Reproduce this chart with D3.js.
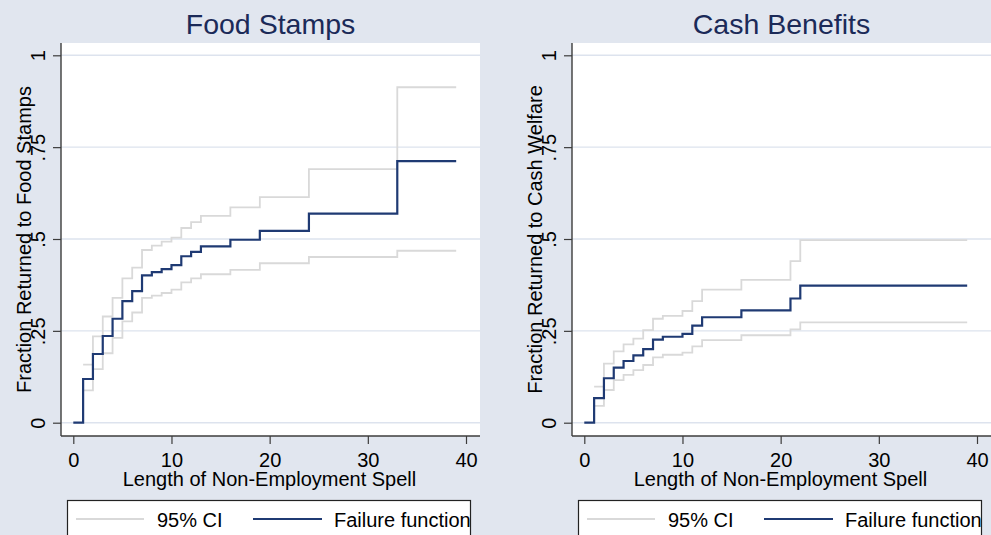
<!DOCTYPE html>
<html>
<head>
<meta charset="utf-8">
<script src="https://cdn.jsdelivr.net/npm/d3@7"></script>
<style>
  html, body { margin: 0; padding: 0; background: #e1e6ef; overflow: hidden; }
  svg { display: block; }
  text { font-family: "Liberation Sans", Arial, Helvetica, sans-serif; }
</style>
</head>
<body>
<svg id="chart" width="991" height="535"></svg>
<script>
// Axis ticks
const xTicks = [0, 10, 20, 30, 40];
const yTicks = [0, 0.25, 0.5, 0.75, 1];
const yTickLabels = ["0", ".25", ".5", ".75", "1"];

// Food stamps: Kaplan-Meier failure estimate and 95% CI (months)
const foodTimes   = [0, 1, 2, 3, 4, 5, 6, 7, 8, 9, 10, 11, 12, 13, 16, 19, 24, 33, 39];
const foodFailure = [0, 0.119, 0.187, 0.236, 0.283, 0.331, 0.358, 0.401, 0.410, 0.418, 0.429, 0.453, 0.465, 0.480, 0.498, 0.522, 0.569, 0.712, 0.712];
const foodUpper   = [null, 0.158, 0.235, 0.289, 0.340, 0.393, 0.422, 0.470, 0.482, 0.493, 0.504, 0.530, 0.546, 0.563, 0.586, 0.614, 0.690, 0.913, 0.913];
const foodLower   = [null, 0.088, 0.146, 0.189, 0.231, 0.276, 0.300, 0.340, 0.346, 0.353, 0.362, 0.382, 0.393, 0.404, 0.416, 0.434, 0.451, 0.468, 0.468];

// Cash welfare: Kaplan-Meier failure estimate and 95% CI (months)
const cashTimes   = [0, 1, 2, 3, 4, 5, 6, 7, 8, 10, 11, 12, 16, 21, 22, 39];
const cashFailure = [0, 0.067, 0.121, 0.150, 0.168, 0.183, 0.200, 0.226, 0.234, 0.242, 0.264, 0.287, 0.306, 0.338, 0.373, 0.373];
const cashUpper   = [null, 0.098, 0.161, 0.194, 0.213, 0.229, 0.252, 0.283, 0.291, 0.304, 0.331, 0.362, 0.389, 0.440, 0.497, 0.497];
const cashLower   = [null, 0.046, 0.089, 0.116, 0.130, 0.143, 0.157, 0.178, 0.185, 0.191, 0.208, 0.225, 0.238, 0.254, 0.273, 0.273];

// Panel text
const panelTitles  = ["Food Stamps", "Cash Benefits"];
const yTitles      = ["Fraction Returned to Food Stamps", "Fraction Returned to Cash Welfare"];
const xTitle       = "Length of Non-Employment Spell";
const legendLabels = ["95% CI", "Failure function"];

// Colours
const BG = "#e1e6ef", GRID = "#dde3ee", CI_COLOR = "#d9d9d9", FAIL_COLOR = "#1f3a73",
      AXIS = "#3c3c3c", TITLE_COLOR = "#1b2a58";

// Layout (pixels); the second panel is the first one shifted right
const panelOffsets = [0, 511];
const plot = { left: 61, right: 480, top: 43, bottom: 436 };
const xRange = [73.3, 466];
const yRange = [422.7, 55.3];
const LABEL_SIZE = "20px";

const svg = d3.select("#chart");
svg.append("rect").attr("width", 991).attr("height", 535).attr("fill", BG);

const series = [
  { times: foodTimes, fail: foodFailure, upper: foodUpper, lower: foodLower },
  { times: cashTimes, fail: cashFailure, upper: cashUpper, lower: cashLower }
];

series.forEach((s, i) => {
  const off = panelOffsets[i];
  const g = svg.append("g").attr("transform", `translate(${off},0)`);
  const right = i === 1 ? 991 - off : plot.right;

  const x = d3.scaleLinear().domain([0, 40]).range(xRange);
  const y = d3.scaleLinear().domain([0, 1]).range(yRange);

  // plot region
  g.append("rect")
    .attr("x", plot.left).attr("y", plot.top)
    .attr("width", right - plot.left).attr("height", plot.bottom - plot.top)
    .attr("fill", "#ffffff");

  // horizontal grid
  g.append("g").selectAll("line").data(yTicks).join("line")
    .attr("x1", plot.left).attr("x2", right)
    .attr("y1", d => y(d)).attr("y2", d => y(d))
    .attr("stroke", GRID).attr("stroke-width", 1.4);

  // step curves
  const line = key => d3.line()
    .defined((d, j) => s[key][j] != null)
    .x((d, j) => x(s.times[j]))
    .y((d, j) => y(s[key][j]))
    .curve(d3.curveStepAfter);

  ["upper", "lower"].forEach(k => {
    g.append("path").datum(s.times).attr("d", line(k))
      .attr("fill", "none").attr("stroke", CI_COLOR).attr("stroke-width", 1.8);
  });
  g.append("path").datum(s.times).attr("d", line("fail"))
    .attr("fill", "none").attr("stroke", FAIL_COLOR).attr("stroke-width", 2.2);

  // y axis
  const yAxis = g.append("g").attr("transform", `translate(${plot.left},0)`)
    .call(d3.axisLeft(y).tickValues(yTicks).tickFormat((d, j) => yTickLabels[j])
      .tickSize(8).tickSizeOuter(0));
  yAxis.select(".domain").remove();
  yAxis.selectAll(".tick line").attr("stroke", AXIS).attr("stroke-width", 1.2);
  yAxis.selectAll(".tick text")
    .attr("transform", "rotate(-90)")
    .attr("x", 0).attr("y", -16).attr("dy", 0)
    .attr("text-anchor", "middle")
    .attr("fill", "#000").style("font-size", LABEL_SIZE);
  g.append("line").attr("x1", plot.left).attr("x2", plot.left)
    .attr("y1", plot.top).attr("y2", plot.bottom)
    .attr("stroke", AXIS).attr("stroke-width", 1.4);

  // x axis
  const xAxis = g.append("g").attr("transform", `translate(0,${plot.bottom})`)
    .call(d3.axisBottom(x).tickValues(xTicks).tickFormat(d3.format("d"))
      .tickSize(8).tickSizeOuter(0));
  xAxis.select(".domain").remove();
  xAxis.selectAll(".tick line").attr("stroke", AXIS).attr("stroke-width", 1.2);
  xAxis.selectAll(".tick text")
    .attr("y", 30.5).attr("dy", 0)
    .attr("fill", "#000").style("font-size", LABEL_SIZE);
  g.append("line").attr("x1", plot.left).attr("x2", right)
    .attr("y1", plot.bottom).attr("y2", plot.bottom)
    .attr("stroke", AXIS).attr("stroke-width", 1.4);

  // titles
  g.append("text").attr("x", (plot.left + plot.right) / 2).attr("y", 34)
    .attr("text-anchor", "middle").attr("fill", TITLE_COLOR)
    .style("font-size", "28.5px").text(panelTitles[i]);
  g.append("text").attr("x", (plot.left + plot.right) / 2 - 1).attr("y", 485.5)
    .attr("text-anchor", "middle").attr("fill", "#000")
    .style("font-size", LABEL_SIZE).text(xTitle);
  g.append("text")
    .attr("transform", `translate(${plot.left - 30},${(plot.top + plot.bottom) / 2}) rotate(-90)`)
    .attr("text-anchor", "middle").attr("fill", "#000")
    .style("font-size", LABEL_SIZE).text(yTitles[i]);

  // legend
  const lg = g.append("g");
  lg.append("rect").attr("x", 67.5).attr("y", 500.5).attr("width", 403).attr("height", 60)
    .attr("fill", "#ffffff").attr("stroke", "#222").attr("stroke-width", 1.2);
  const items = [
    { label: legendLabels[0], color: CI_COLOR, w: 1.8, x1: 76, x2: 144, tx: 157 },
    { label: legendLabels[1], color: FAIL_COLOR, w: 2.2, x1: 253, x2: 322, tx: 334 }
  ];
  items.forEach(it => {
    lg.append("line").attr("x1", it.x1).attr("x2", it.x2).attr("y1", 519).attr("y2", 519)
      .attr("stroke", it.color).attr("stroke-width", it.w);
    lg.append("text").attr("x", it.tx).attr("y", 526.5).attr("fill", "#000")
      .style("font-size", LABEL_SIZE).text(it.label);
  });
});
</script>
</body>
</html>
